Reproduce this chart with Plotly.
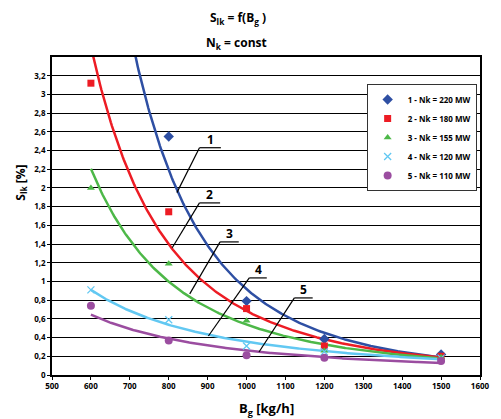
import numpy as np
import plotly.graph_objects as go

# ---- data ----
bg_points = [600, 800, 1000, 1200, 1500]
s1 = [None, 2.55, 0.79, 0.385, 0.22]   # 1 - Nk = 220 MW
s2 = [3.12, 1.745, 0.71, 0.31, 0.20]   # 2 - Nk = 180 MW
s3 = [2.0, 1.19, 0.58, 0.26, 0.19]     # 3 - Nk = 155 MW
s4 = [0.91, 0.59, 0.31, 0.25, 0.18]    # 4 - Nk = 120 MW
s5 = [0.74, 0.37, 0.21, 0.185, 0.15]   # 5 - Nk = 110 MW
names = ["1 - Nk = 220 MW", "2 - Nk = 180 MW", "3 - Nk = 155 MW",
         "4 - Nk = 120 MW", "5 - Nk = 110 MW"]
x_ticks = list(range(500, 1700, 100))
y_ticks = [round(0.2 * i, 1) for i in range(17)]
y_ticktext = [("%g" % v).replace(".", ",") for v in y_ticks]

series = [s1, s2, s3, s4, s5]
colors = ["#2E4FA3", "#ED1C24", "#4DB848", "#62C8F2", "#9B4DA0"]
symbols = ["diamond", "square", "triangle-up", "x-thin", "circle"]
msizes = [8, 7, 7, 7, 8]

fig = go.Figure()

# power-law trend lines (least squares in log space, like a spreadsheet power trendline)
xf = np.linspace(600, 1500, 300)
for s, c in zip(series, colors):
    xs = np.array([x for x, v in zip(bg_points, s) if v is not None], float)
    ys = np.array([v for v in s if v is not None], float)
    b, a = np.polyfit(np.log(xs), np.log(ys), 1)
    yf = np.exp(a) * xf ** b
    fig.add_trace(go.Scatter(x=xf, y=yf, mode="lines", line=dict(color=c, width=2.5),
                             showlegend=False, hoverinfo="skip"))

for s, c, sym, ms, nm in zip(series, colors, symbols, msizes, names):
    xs = [x for x, v in zip(bg_points, s) if v is not None]
    ys = [v for v in s if v is not None]
    mk = dict(color=c, size=ms, symbol=sym)
    if sym == "x-thin":
        mk["line"] = dict(color=c, width=1.3)
    fig.add_trace(go.Scatter(x=xs, y=ys, mode="markers", marker=mk, name=nm))

# labels with leader lines
labels = [
    ("1", 879, 934, 2.43, 821, 1.95),
    ("2", 879, 932, 1.84, 809, 1.36),
    ("3", 932, 980, 1.423, 854, 0.867),
    ("4", 1007, 1052, 1.038, 902, 0.417),
    ("5", 1123, 1170, 0.824, 1032, 0.246),
]
for t, x0, x1, yl, xe, ye in labels:
    fig.add_shape(type="line", x0=x0, x1=x1, y0=yl, y1=yl, line=dict(color="black", width=1.2))
    fig.add_shape(type="line", x0=x0, x1=xe, y0=yl, y1=ye, line=dict(color="black", width=1.2))
    fig.add_annotation(x=(x0 + x1) / 2, y=yl, text="<b>%s</b>" % t, showarrow=False,
                       yanchor="bottom", yshift=-2, font=dict(size=12, color="black"))

font_family = "Open Sans"
fig.add_annotation(xref="paper", yref="paper", x=(242 - 52) / 438, y=(375 - 18) / 318,
                   text="<b>S<sub>lk</sub> = f(B<sub>g</sub> )</b>", showarrow=False,
                   font=dict(size=12, color="black"), yanchor="middle")
fig.add_annotation(xref="paper", yref="paper", x=(241 - 52) / 438, y=(375 - 43) / 318,
                   text="<b>N<sub>k</sub> = const</b>", showarrow=False,
                   font=dict(size=12, color="black"), yanchor="middle")
fig.add_annotation(xref="paper", yref="paper", x=(20 - 52) / 438, y=(375 - 183) / 318,
                   text="<b>S<sub>lk</sub> [%]</b>", showarrow=False, textangle=-90,
                   font=dict(size=12, color="black"), xanchor="center", yanchor="middle")
fig.add_annotation(xref="paper", yref="paper", x=0.5, y=(375 - 409) / 318,
                   text="<b>B<sub>g</sub> [kg/h]</b>", showarrow=False,
                   font=dict(size=13, color="black"), yanchor="middle")

fig.update_layout(
    width=501, height=419,
    margin=dict(l=52, r=11, t=57, b=44),
    paper_bgcolor="white", plot_bgcolor="white",
    font=dict(family=font_family, color="black"),
    legend=dict(x=(374 - 52) / 438, y=(375 - 84) / 318, xanchor="left", yanchor="top",
                bgcolor="white", bordercolor="#333", borderwidth=1,
                font=dict(size=8, family=font_family, weight="bold"),
                itemwidth=30, tracegroupgap=0),
    showlegend=True,
)
fig.update_xaxes(range=[500, 1600], tickvals=x_ticks, ticks="outside", ticklen=3,
                 tickcolor="black", showgrid=False, showline=True, linecolor="black",
                 linewidth=1.5, mirror=True, zeroline=False,
                 tickfont=dict(size=8, weight="bold"))
fig.update_yaxes(range=[0, 3.4], tickvals=y_ticks, ticktext=y_ticktext, ticks="outside",
                 ticklen=3, tickcolor="black", showgrid=True, gridcolor="black", gridwidth=1.2,
                 showline=True, linecolor="black", linewidth=1.5, mirror=True, zeroline=False,
                 tickfont=dict(size=8, weight="bold"))

fig.write_html("out.html")
